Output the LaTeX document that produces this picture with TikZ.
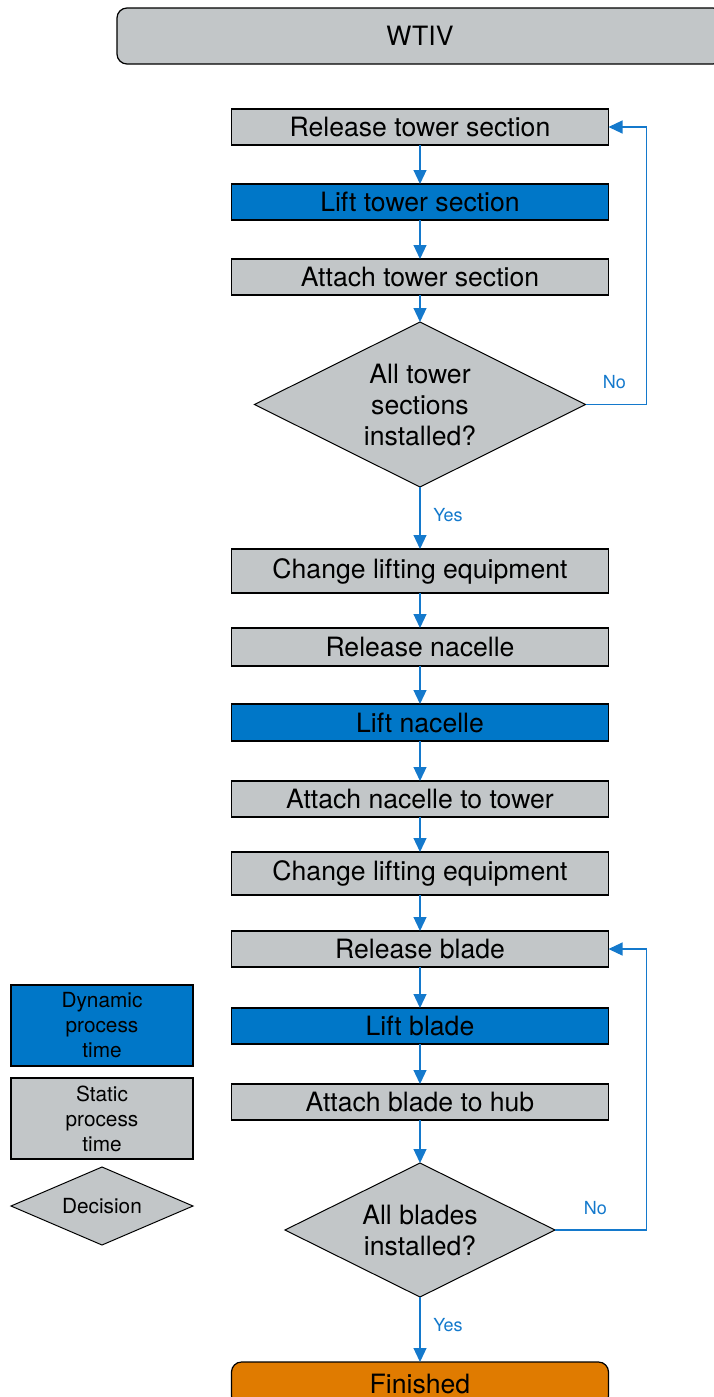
\documentclass[tikz,border=0pt]{standalone}
\usepackage{fontspec}
\setmainfont{TeX Gyre Heros}
\usetikzlibrary{positioning}
\usetikzlibrary{arrows.meta}
\usetikzlibrary{shapes.geometric}

\definecolor{boxgray}{HTML}{C2C6C8}
\definecolor{dynblue}{HTML}{0077C8}
\definecolor{finorange}{HTML}{E07B00}
\definecolor{flowblue}{HTML}{1479CC}

\tikzset{
  statbox/.style={draw, fill=boxgray, line width=0.6pt, outer sep=0pt,
    minimum width=188.5pt, minimum height=18pt, inner sep=1pt,
    font=\fontsize{13.3}{15.5}\selectfont},
  dynbox/.style={statbox, fill=dynblue},
  decbox/.style={diamond, aspect=2, draw, fill=boxgray, line width=0.5pt, outer sep=0pt,
    inner sep=0pt, align=center, font=\fontsize{13.3}{15.5}\selectfont},
  legbox/.style={draw, line width=0.6pt, outer sep=0pt, minimum width=91pt,
    minimum height=40.5pt, align=center, inner sep=1pt,
    font=\fontsize{10.4}{12.5}\selectfont},
  flow/.style={-{Triangle[length=7pt,width=6.5pt]}, draw=flowblue, line width=0.6pt},
  lbl/.style={text=flowblue, font=\fontsize{9}{11}\selectfont},
}

\begin{document}
\begin{tikzpicture}
\useasboundingbox (0,0) rectangle (356.5pt,-698.5pt);

% Vessel header
\node[draw, fill=boxgray, rounded corners=5pt, line width=0.6pt,
    minimum width=303pt, minimum height=28pt,
    font=\fontsize{13.3}{15.5}\selectfont
    ] (wtiv) at (210pt,-18pt) {WTIV};

% Tower sections
\node[statbox] (reltower) at (210pt,-63.5pt) {Release tower section};
\node[dynbox, below=19.5pt of reltower] (lifttower) {Lift tower section};
\node[statbox, below=19.5pt of lifttower] (atttower) {Attach tower section};
\node[decbox,
    minimum width=165.5pt,
    minimum height=82.5pt,
    below=13.5pt of atttower
    ] (alltower) {All tower\\sections\\installed?};

% Nacelle
\node[statbox, minimum height=22pt, below=31pt of alltower] (chgone) {Change lifting equipment};
\node[statbox, minimum height=19pt, below=17.5pt of chgone] (relnac) {Release nacelle};
\node[dynbox, minimum height=18.5pt, below=19pt of relnac] (liftnac) {Lift nacelle};
\node[statbox, below=20pt of liftnac] (attnac) {Attach nacelle to tower};
\node[statbox, minimum height=21.5pt, below=17.5pt of attnac] (chgtwo) {Change lifting equipment};

% Blades
\node[statbox, below=18pt of chgtwo] (relblade) {Release blade};
\node[dynbox, below=20.5pt of relblade] (liftblade) {Lift blade};
\node[statbox, below=20pt of liftblade] (attblade) {Attach blade to hub};
\node[decbox,
    minimum width=135pt,
    minimum height=67pt,
    below=21.5pt of attblade
    ] (allblade) {All blades\\installed?};
\node[statbox, fill=finorange, rounded corners=5pt,
    minimum height=22pt,
    below=32.5pt of allblade
    ] (finished) {Finished};

% Legend
\node[legbox, fill=dynblue] (legdyn) at (51pt,-512.75pt) {Dynamic\\process\\time};
\node[legbox, fill=boxgray, below=6pt of legdyn] (legstat) {Static\\process\\time};
\node[decbox,
    minimum width=91pt,
    minimum height=39pt,
    font=\fontsize{10.4}{12.5}\selectfont,
    below=4pt of legstat
    ] (legdec) {Decision};

% Main flow
\draw[flow] (reltower.south) -- (lifttower.north);
\draw[flow] (lifttower.south) -- (atttower.north);
\draw[flow] (atttower.south) -- (alltower.north);
\draw[flow] (alltower.south) -- (chgone.north)
    node[lbl, pos=0.45, right=3pt]{Yes};
\draw[flow] (chgone.south) -- (relnac.north);
\draw[flow] (relnac.south) -- (liftnac.north);
\draw[flow] (liftnac.south) -- (attnac.north);
\draw[flow] (attnac.south) -- (chgtwo.north);
\draw[flow] (chgtwo.south) -- (relblade.north);
\draw[flow] (relblade.south) -- (liftblade.north);
\draw[flow] (liftblade.south) -- (attblade.north);
\draw[flow] (attblade.south) -- (allblade.north);
\draw[flow] (allblade.south) -- (finished.north)
    node[lbl, pos=0.43, right=3pt]{Yes};

% Loops back
\coordinate (looptop) at ([xshift=19pt]reltower.east);
\draw[flow] (alltower.east) -- (alltower.east -| looptop)
    node[lbl, pos=0.475, above=4pt]{No} -- (looptop) -- (reltower.east);

\coordinate (loopbot) at ([xshift=19pt]relblade.east);
\draw[flow] (allblade.east) -- (allblade.east -| loopbot)
    node[lbl, pos=0.44, above=4pt]{No} -- (loopbot) -- (relblade.east);
\end{tikzpicture}
\end{document}
